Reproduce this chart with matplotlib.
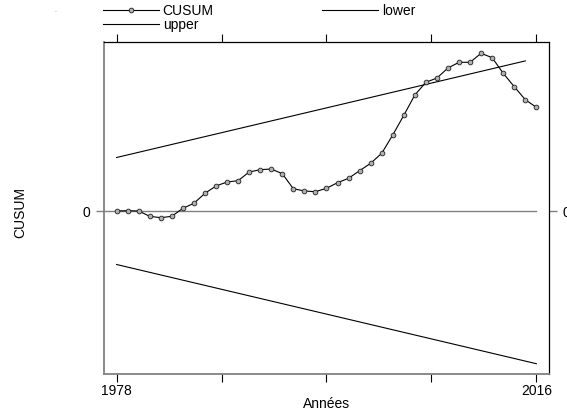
import matplotlib
matplotlib.use("Agg")
import matplotlib.pyplot as plt

plt.rcParams['font.family'] = ['Liberation Sans', 'DejaVu Sans']
plt.rcParams['font.size'] = 10

# CUSUM par année
annees = list(range(1978, 2017))
cusum = [0, 0.3, 0, -5.3, -6.7, -5.3, 2.7, 7.7, 17.7, 25,
         29, 30.3, 39, 41.3, 42, 37.3, 22.3, 20, 19.3, 22.7,
         28.3, 32.7, 40.3, 47.7, 57.7, 76, 95.7, 116, 128.7, 133,
         143, 148.7, 148.7, 157.7, 153.3, 137.7, 124.3, 111.3, 103.7]

# bornes (droites)
upper_x = [1978, 2015]
upper_y = [53.5, 150.1]
lower_x = [1978, 2016]
lower_y = [-53.5, -152.7]

xticks = [1978, 1987.5, 1997, 2006.5, 2016]
xticklabels = ['1978', '', '', '', '2016']

fig = plt.figure(figsize=(5.67, 4.12), dpi=100)
ax = fig.add_axes([104/567, 1-374.3/412, (548.5-104)/567, (374.3-42.3)/412])

ax.set_xlim(1976.86, 2017.1)
ax.set_ylim(-163.3, 168.7)

# ligne du zéro
ax.plot([1976.86, 2016], [0, 0], color='#808080', lw=1.0, zorder=1)

l1, = ax.plot(annees, cusum, color='black', lw=0.8, marker='o', ms=3.4,
              mfc='#b0b0b0', mec='#202020', mew=0.6, label='CUSUM', zorder=3)
l2, = ax.plot(upper_x, upper_y, color='black', lw=0.8, label='upper')
l3, = ax.plot(lower_x, lower_y, color='black', lw=0.8, label='lower')

ax.set_xticks(xticks)
ax.set_xticklabels(xticklabels)
ax.set_yticks([0])
ax.set_yticklabels(['0'])
ax.tick_params(axis='x', direction='out', length=6, width=0.8, pad=0.8,
               top=True, color='black')
ax.tick_params(axis='y', direction='out', length=6, width=1.0, pad=4,
               right=True, labelright=True, color='#808080')

for s in ['left', 'bottom']:
    ax.spines[s].set_color('#808080')
    ax.spines[s].set_linewidth(1.3)
for s in ['top', 'right']:
    ax.spines[s].set_color('black')
    ax.spines[s].set_linewidth(0.9)

ax.set_xlabel('Années', labelpad=-0.5)
fig.text(20/567, 1-212/412, 'CUSUM', rotation=90, ha='center', va='center')
fig.text(55/567, 1-12/412, '.', fontsize=5, color='#808080', ha='center')

fig.legend(handles=[l1, l2, l3], loc='upper left',
           bbox_to_anchor=(103/567, 1-4/412), ncol=2, frameon=False,
           borderpad=0, borderaxespad=0, handlelength=4, handletextpad=0.3,
           labelspacing=0.0, columnspacing=7.8)

fig.savefig('out.png', dpi=100)
